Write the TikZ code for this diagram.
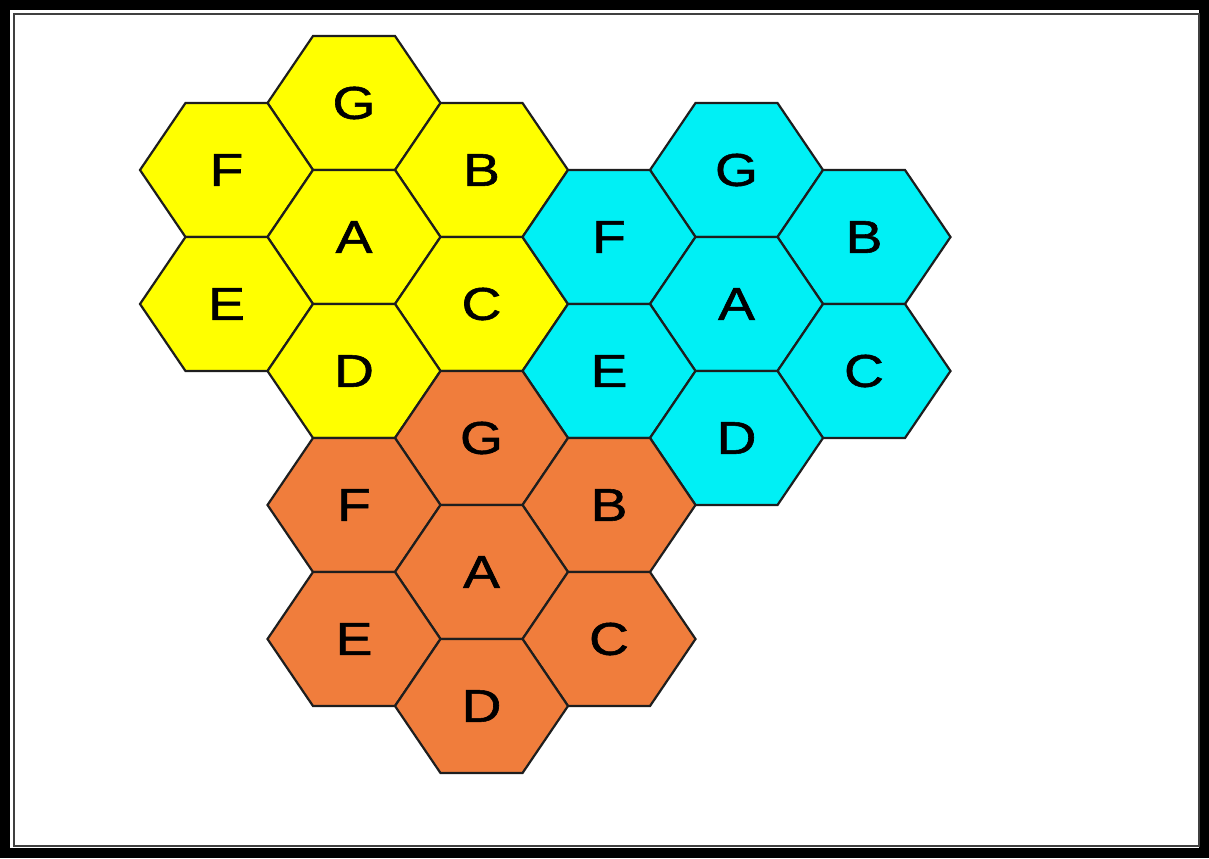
\documentclass[tikz,border=0pt]{standalone}
\usepackage{fontspec}
\setmainfont{Liberation Sans}
\newfontfamily\lblfont[FakeBold=1.2]{Liberation Sans}
\definecolor{hexyellow}{RGB}{255,255,0}
\definecolor{hexcyan}{RGB}{0,240,245}
\definecolor{hexorange}{RGB}{240,125,60}
\definecolor{hexedge}{RGB}{30,30,30}
\tikzset{
  hexline/.style={draw=hexedge, line width=1.1pt, line join=miter},
  lbl/.style={inner sep=0pt, font=\lblfont\fontsize{23}{26}\selectfont, text=black},
  outerframe/.style={draw=black, line width=5pt},
  innerframe/.style={draw=black!75, line width=1pt},
}
\newcommand\hexcell[5]{%
  \filldraw[hexline, fill=#4] (#2,#3) ++(-86.5,0) -- ++(45.5,-67) -- ++(82,0) -- ++(45.5,67) -- ++(-45.5,67) -- ++(-82,0) -- cycle;
  \node[lbl] (#1) at (#2,#3) {\scalebox{1.2}[1]{#5}};
}
\begin{document}
\begin{tikzpicture}[x=0.5pt, y=-0.5pt]
\useasboundingbox (0,0) rectangle (1209,858);
\fill[white] (0,0) rectangle (1209,858);
\draw[outerframe] (5,5) rectangle (1204,853);
\draw[innerframe] (13.5,13.5) rectangle (1199,846);
% yellow cluster
\hexcell{yG}{354}{103}{hexyellow}{G}
\hexcell{yF}{226.5}{170}{hexyellow}{F}
\hexcell{yB}{481.5}{170}{hexyellow}{B}
\hexcell{yA}{354}{237}{hexyellow}{A}
\hexcell{yE}{226.5}{304}{hexyellow}{E}
\hexcell{yC}{481.5}{304}{hexyellow}{C}
\hexcell{yD}{354}{371}{hexyellow}{D}
% cyan cluster
\hexcell{cG}{736.5}{170}{hexcyan}{G}
\hexcell{cF}{609}{237}{hexcyan}{F}
\hexcell{cB}{864}{237}{hexcyan}{B}
\hexcell{cA}{736.5}{304}{hexcyan}{A}
\hexcell{cE}{609}{371}{hexcyan}{E}
\hexcell{cC}{864}{371}{hexcyan}{C}
\hexcell{cD}{736.5}{438}{hexcyan}{D}
% orange cluster
\hexcell{oG}{481.5}{438}{hexorange}{G}
\hexcell{oF}{354}{505}{hexorange}{F}
\hexcell{oB}{609}{505}{hexorange}{B}
\hexcell{oA}{481.5}{572}{hexorange}{A}
\hexcell{oE}{354}{639}{hexorange}{E}
\hexcell{oC}{609}{639}{hexorange}{C}
\hexcell{oD}{481.5}{706}{hexorange}{D}
\end{tikzpicture}
\end{document}
